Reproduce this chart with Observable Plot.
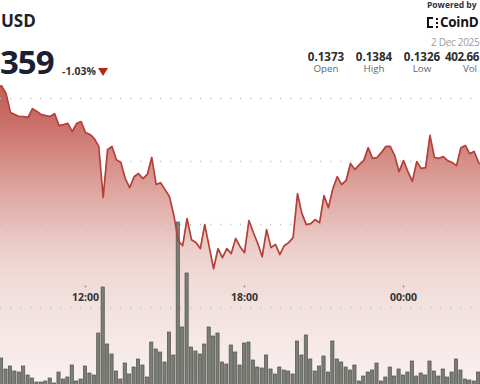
<!DOCTYPE html>
<html><head><meta charset="utf-8">
<script src="https://cdn.jsdelivr.net/npm/d3@7"></script>
<script src="https://cdn.jsdelivr.net/npm/@observablehq/plot@0.6"></script>
<style>
html,body{margin:0;padding:0;background:#fff;}
#chart{position:relative;width:480px;height:384px;overflow:hidden;font-family:"Open Sans",sans-serif;}
#chart .layer{position:absolute;left:0;top:0;width:480px;height:384px;}
#chart svg{display:block;overflow:hidden;}
.hdr{position:absolute;white-space:nowrap;line-height:1;}
</style></head><body><div id="chart"></div>
<script>
// ---- data ----
const startTime = new Date("2025-12-01T08:40:00Z");
const stepMinutes = 10;
const prices = [
0.13835,0.13840,0.13816,0.13756,0.13749,0.13743,0.13743,0.13740,0.13768,0.13759,
0.13749,0.13746,0.13743,0.13752,0.13714,0.13717,0.13721,0.13695,0.13721,0.13727,
0.13692,0.13686,0.13673,0.13648,0.13486,0.13638,0.13648,0.13606,0.13597,0.13546,
0.13517,0.13552,0.13562,0.13546,0.13559,0.13613,0.13527,0.13533,0.13511,0.13489,
0.13429,0.13349,0.13333,0.13419,0.13352,0.13343,0.13324,0.13400,0.13330,0.13260,
0.13324,0.13295,0.13324,0.13308,0.13356,0.13330,0.13311,0.13413,0.13375,0.13340,
0.13298,0.13384,0.13327,0.13337,0.13305,0.13333,0.13343,0.13359,0.13498,0.13435,
0.13400,0.13403,0.13416,0.13406,0.13492,0.13454,0.13514,0.13552,0.13527,0.13540,
0.13594,0.13575,0.13590,0.13603,0.13644,0.13610,0.13613,0.13629,0.13648,0.13648,
0.13619,0.13568,0.13603,0.13568,0.13537,0.13600,0.13578,0.13581,0.13683,0.13613,
0.13610,0.13616,0.13603,0.13597,0.13587,0.13644,0.13651,0.13625,0.13632,0.13597,
0.13584];
const volumes = [ // millions
2.0,3.2,2.1,2.4,1.9,1.8,2.4,1.5,1.2,0.8,
0.8,0.9,1.2,0.7,1.8,1.1,1.3,2.5,0.9,1.1,
2.4,1.7,1.5,5.7,10.3,4.6,3.6,1.9,1.1,2.7,
1.6,2.3,3.1,2.5,1.3,4.8,4.1,3.8,2.8,5.8,
3.5,16.8,6.3,11.7,4.3,3.9,3.6,4.6,6.3,5.4,
5.7,2.8,2.6,4.5,3.8,2.5,4.7,4.8,3.0,2.3,
2.2,3.5,2.1,1.6,2.3,2.0,1.9,1.6,4.9,3.5,
5.5,3.1,1.9,2.4,3.4,1.8,4.9,3.1,2.8,2.3,
2.0,2.5,0.9,1.4,1.8,2.0,2.7,0.9,1.3,2.3,
1.4,2.1,1.5,1.8,2.9,1.4,1.7,1.5,2.9,1.9,
1.4,2.1,1.3,1.8,3.1,2.0,1.1,1.0,0.9,1.8,
1.8];
const gridPrices = [0.138, 0.136, 0.134];
const tickTimes = ["2025-12-01T12:00:00Z","2025-12-01T18:00:00Z","2025-12-02T00:00:00Z"].map(s => new Date(s));
const xDomain = [new Date("2025-12-01T08:47:30Z"), new Date("2025-12-02T02:54:20Z")];
const yDomain = [0.13137, 0.14111];
const areaFloor = 0.1285;
const volDomain = [0, 39];
const statLabels = ["Open","High","Low","Vol"];
const statValues = ["0.1373","0.1384","0.1326","402.66"];
const pairText = "USD";
const priceText = "359";
const changeText = "-1.03%";
const dateText = "2 Dec 2025";

// ---- build ----
const series = prices.map((p, i) => ({time: d3.utcMinute.offset(startTime, stepMinutes * i), price: p, vol: volumes[i]}));
const root = document.getElementById("chart");
const fontFamily = "'Open Sans', sans-serif";

function gradientDefs() {
  const ns = "http://www.w3.org/2000/svg";
  const defs = document.createElementNS(ns, "defs");
  const g = document.createElementNS(ns, "linearGradient");
  g.setAttribute("id", "priceFill");
  g.setAttribute("x1", "0"); g.setAttribute("y1", "0");
  g.setAttribute("x2", "0"); g.setAttribute("y2", "1");
  [[0, "#c25e56"], [0.11, "#c96e67"], [0.34, "#dfa6a0"], [0.53, "#ecd0cc"], [0.63, "#f0dcd9"], [0.96, "#f9f1f0"], [1, "#faf3f2"]]
    .forEach(([o, c]) => {
      const s = document.createElementNS(ns, "stop");
      s.setAttribute("offset", o); s.setAttribute("stop-color", c);
      g.appendChild(s);
    });
  defs.appendChild(g);
  return defs;
}

const priceBase = {
  width: 480, height: 384,
  marginTop: 0, marginRight: 0, marginLeft: 0, marginBottom: 77,
  x: {type: "utc", domain: xDomain, axis: null},
  y: {domain: yDomain, axis: null},
  style: {fontFamily, background: "transparent"}
};

const fillPlot = Plot.plot({
  ...priceBase,
  marks: [
    gradientDefs,
    Plot.areaY(series, {x: "time", y1: () => areaFloor, y2: "price", fill: "url(#priceFill)"}),
    Plot.ruleY(gridPrices, {stroke: "#b9b9b9", strokeWidth: 1.5, strokeDasharray: "1.2 8.8", strokeOpacity: 0.85}),
    Plot.ruleY([yDomain[0]], {stroke: "#b9b9b9", strokeWidth: 1.5, strokeDasharray: "1.2 8.8", strokeOpacity: 0.85}),
    Plot.dot(tickTimes, {x: d => d, frameAnchor: "bottom", dy: -21, r: 0.9, fill: "#8a8a8a"}),
    Plot.text(tickTimes, {x: d => d, frameAnchor: "bottom", dy: -7, text: d => d3.utcFormat("%H:%M")(d),
      fontSize: 10.5, fontWeight: "bold", fill: "#333"})
  ]
});

const volPlot = Plot.plot({
  width: 480, height: 384, margin: 0,
  x: {type: "utc", domain: xDomain, axis: null},
  y: {domain: volDomain, range: [390, 0], axis: null},
  style: {fontFamily, background: "transparent"},
  marks: [
    Plot.rectY(series, {
      x1: d => d3.utcSecond.offset(d.time, -216), x2: d => d3.utcSecond.offset(d.time, 216),
      y: "vol", fill: "#7b7e77", stroke: "#4e514b", strokeWidth: 0.7
    })
  ]
});

const linePlot = Plot.plot({
  ...priceBase,
  marks: [
    Plot.line(series, {x: "time", y: "price", stroke: "#b3403a", strokeWidth: 1.7, strokeLinejoin: "round"})
  ]
});

[fillPlot, volPlot, linePlot].forEach(el => {
  const wrap = document.createElement("div");
  wrap.className = "layer";
  wrap.appendChild(el);
  root.appendChild(wrap);
});

// ---- header (HTML text) ----
function addText(text, css) {
  const d = document.createElement("div");
  d.className = "hdr";
  d.textContent = text;
  Object.assign(d.style, css);
  root.appendChild(d);
  return d;
}
addText(pairText, {left: "1px", top: "12px", fontSize: "17px", fontWeight: "700", color: "#1b2030"});
addText(priceText, {left: "0px", top: "45px", fontSize: "33px", fontWeight: "700", letterSpacing: "-1px", color: "#1b2030"});
addText(changeText, {left: "62px", top: "66px", fontSize: "10.5px", fontWeight: "700", color: "#333"});
const tri = document.createElement("div");
Object.assign(tri.style, {position: "absolute", left: "98px", top: "68px", width: "0", height: "0",
  borderLeft: "5px solid transparent", borderRight: "5px solid transparent", borderTop: "8px solid #b3261e"});
root.appendChild(tri);

addText("Powered by", {left: "427px", top: "1px", fontSize: "8.5px", fontWeight: "700", color: "#333"});
// logo mark
const logo = document.createElement("div");
Object.assign(logo.style, {position: "absolute", left: "427px", top: "17px", width: "4px", height: "7px",
  borderLeft: "2.5px solid #111", borderTop: "2px solid #111", borderBottom: "2px solid #111"});
root.appendChild(logo);
[18, 22, 26].forEach(t => {
  const s = document.createElement("div");
  Object.assign(s.style, {position: "absolute", left: "436px", top: t + "px", width: "2px", height: "2px", background: "#111"});
  root.appendChild(s);
});
addText("CoinD", {left: "440px", top: "16px", fontSize: "13.5px", fontWeight: "700", letterSpacing: "-0.3px", color: "#151515"});
addText(dateText, {left: "431px", top: "37px", fontSize: "10px", fontWeight: "400", letterSpacing: "-0.3px", color: "#9a9a9a"});

statValues.forEach((v, i) => {
  const cx = 326 + 48 * i;
  const last = i === statValues.length - 1;
  addText(v, last
    ? {right: "1px", top: "50.5px", fontSize: "11.6px", fontWeight: "700", letterSpacing: "-0.4px", color: "#2d2d2d"}
    : {left: (cx - 30) + "px", width: "60px", textAlign: "center", top: "50.5px", fontSize: "11.6px", fontWeight: "700", color: "#2d2d2d"});
  addText(statLabels[i], {left: (cx - 30) + "px", width: "60px", textAlign: "center", top: "64.3px", fontSize: "9.8px", fontWeight: "400", color: "#666"});
});
</script></body></html>
